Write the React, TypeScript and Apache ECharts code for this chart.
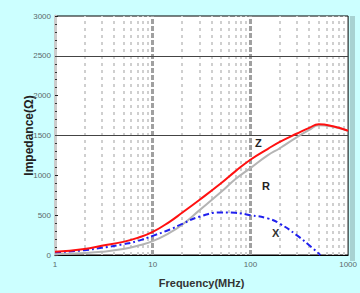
import React, { useEffect, useRef } from "react";
import * as echarts from "echarts";

const freqs = [1, 2, 3, 5, 7, 10, 15, 20, 30, 50, 70, 100, 150, 200, 300, 400, 500, 700, 1000];
const zValues = [40, 75, 115, 165, 215, 290, 420, 530, 690, 900, 1050, 1196, 1330, 1420, 1525, 1595, 1640, 1615, 1560];
const rValues = [10, 25, 40, 75, 115, 175, 280, 380, 560, 790, 950, 1090, 1250, 1340, 1480, 1570, 1630, 1610, 1560];
const xFreqs = [1, 2, 3, 5, 7, 10, 15, 20, 30, 50, 70, 100, 150, 200, 300, 400, 520];
const xValues = [33, 60, 90, 135, 175, 240, 320, 390, 480, 535, 530, 500, 460, 393, 246, 123, 0];
const minorFreqs = [2, 3, 4, 5, 6, 7, 8, 9, 20, 30, 40, 50, 60, 70, 80, 90, 200, 300, 400, 500, 600, 700, 800, 900];
const majorFreqs = [10, 100];
const hLines = [2500, 1500];

export default function App() {
  const ref = useRef<HTMLDivElement>(null);
  useEffect(() => {
    document.body.style.margin = "0";
    const chart = echarts.init(ref.current!, null, { renderer: "svg" });
    chart.setOption({
      animation: false,
      backgroundColor: "#ccffff",
      grid: {
        left: 55, right: 10, top: 16, bottom: 33,
        show: true, backgroundColor: "#ffffff", borderColor: "#000", borderWidth: 1,
      },
      xAxis: {
        type: "log", logBase: 10, min: 1, max: 1000,
        name: "Frequency(MHz)", nameLocation: "middle", nameGap: 22, nameMoveOverlap: false,
        nameTextStyle: { fontFamily: "Liberation Sans", fontWeight: "bold", fontSize: 11, color: "#333" },
        axisLine: { show: true, lineStyle: { color: "#000", width: 1 } },
        axisTick: { show: false },
        axisLabel: { fontFamily: "Liberation Sans", fontSize: 8, color: "#5a6a6a", margin: 5, formatter: (v: number) => String(v) },
        splitLine: { show: false },
      },
      yAxis: {
        type: "value", min: 0, max: 3000, interval: 500,
        name: "Impedance(Ω)", nameLocation: "middle", nameGap: 20, nameMoveOverlap: false,
        nameTextStyle: { fontFamily: "Liberation Sans", fontWeight: "bold", fontSize: 12, color: "#222" },
        axisLine: { show: true, lineStyle: { color: "#cccccc", width: 3 } },
        axisTick: { show: true, inside: true, length: 3, lineStyle: { color: "#222" } },
        minorTick: { show: true, splitNumber: 5, length: 2, lineStyle: { color: "#333" } },
        axisLabel: { fontFamily: "Liberation Sans", fontSize: 8, color: "#5a6a6a", margin: 4, formatter: (v: number) => String(v) },
        splitLine: { show: false },
      },
      series: [
        {
          name: "grid", type: "line", symbol: "none", data: [],
          z: 1,
          markLine: {
            silent: true, symbol: "none", label: { show: false }, z: 1,
            data: [
              ...minorFreqs.map((f) => ({ xAxis: f, lineStyle: { color: "#cfcfcf", width: 2, type: [3, 4] } })),
              ...majorFreqs.map((f) => ({ xAxis: f, lineStyle: { color: "#a0a0a0", width: 3, type: [5, 2] } })),
              ...hLines.map((v) => ({ yAxis: v, lineStyle: { color: "#444", width: 1, type: "solid" } })),
            ],
          },
        },
        {
          name: "R", type: "line", smooth: true, symbol: "none",
          data: freqs.map((f, i) => [f, rValues[i]]),
          lineStyle: { color: "#b4b4b4", width: 2 },
          z: 5,
        },
        {
          name: "X", type: "line", smooth: true, symbol: "none",
          data: xFreqs.map((f, i) => [f, xValues[i]]),
          lineStyle: { color: "#2020ee", width: 2, type: [6, 3, 2, 3] },
          z: 6,
        },
        {
          name: "Z", type: "line", smooth: true, symbol: "none",
          data: freqs.map((f, i) => [f, zValues[i]]),
          lineStyle: { color: "#ff1010", width: 2 },
          z: 7,
        },
      ],
      graphic: [
        { type: "rect", z: 100, shape: { x: 350, y: 16, width: 5, height: 245 }, style: { fill: "#a8d2d2" } },
        { type: "text", z: 100, x: 255, y: 137, style: { text: "Z", font: "bold 11px Liberation Sans", fill: "#222" } },
        { type: "text", z: 100, x: 262, y: 180, style: { text: "R", font: "bold 11px Liberation Sans", fill: "#222" } },
        { type: "text", z: 100, x: 272, y: 227, style: { text: "X", font: "bold 11px Liberation Sans", fill: "#333" } },
      ],
    });
    return () => chart.dispose();
  }, []);
  return <div ref={ref} style={{ width: 360, height: 293 }} />;
}
